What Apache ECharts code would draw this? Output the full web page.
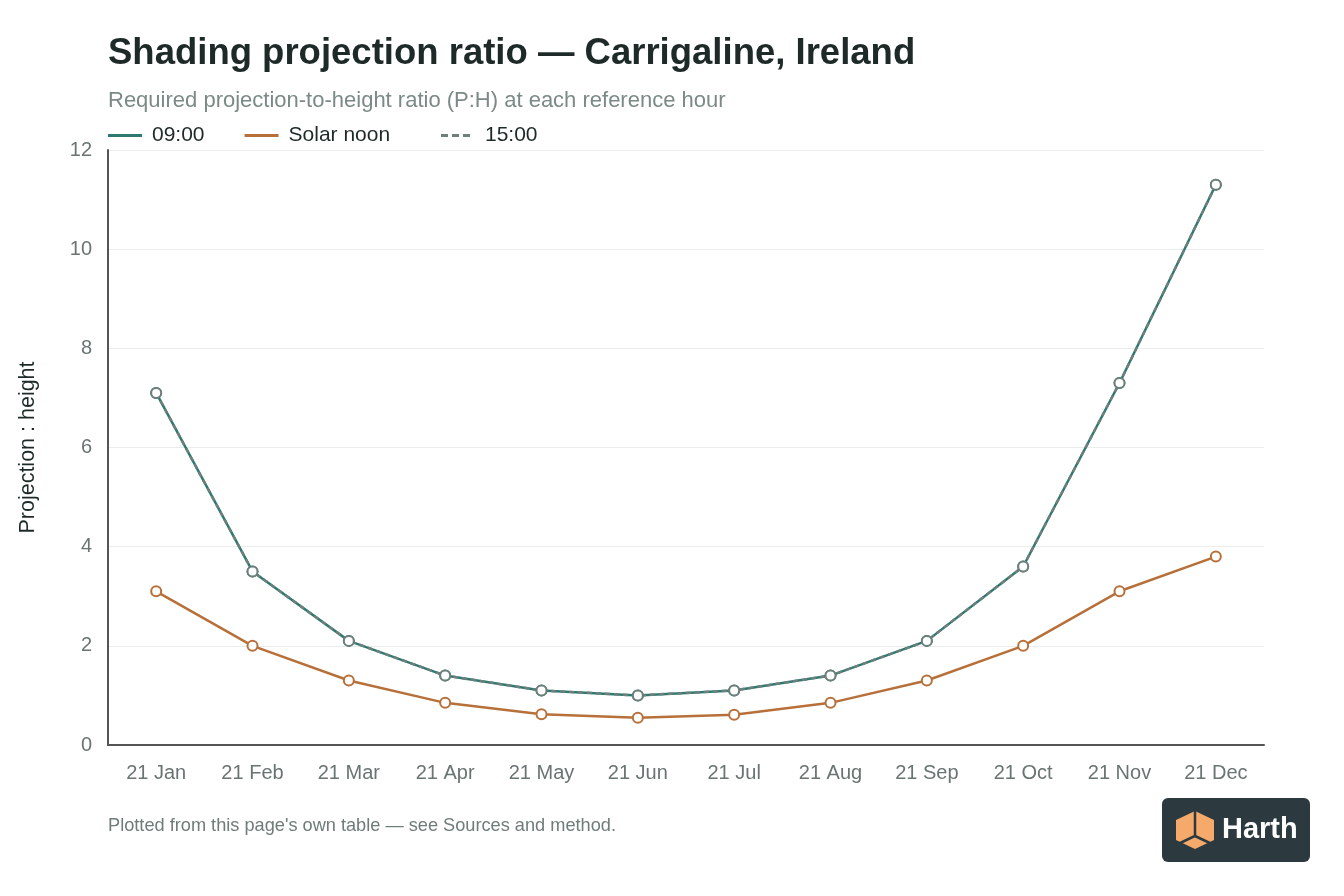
<!DOCTYPE html>
<html>
<head>
<meta charset="utf-8">
<title>Shading projection ratio</title>
<script src="https://cdn.jsdelivr.net/npm/echarts@6/dist/echarts.min.js"></script>
<style>
  html, body { margin: 0; padding: 0; background: #fff; }
  #chart { width: 1344px; height: 896px; }
</style>
</head>
<body>
<div id="chart"></div>
<script>
// dates of the reference days
var months = ['21 Jan', '21 Feb', '21 Mar', '21 Apr', '21 May', '21 Jun', '21 Jul', '21 Aug', '21 Sep', '21 Oct', '21 Nov', '21 Dec'];
// P:H ratio at each reference hour
var morning = [7.1, 3.5, 2.1, 1.4, 1.1, 1.0, 1.1, 1.4, 2.1, 3.6, 7.3, 11.3];
var noon = [3.1, 2.0, 1.3, 0.85, 0.62, 0.55, 0.61, 0.85, 1.3, 2.0, 3.1, 3.8];
var afternoon = [7.1, 3.5, 2.1, 1.4, 1.1, 1.0, 1.1, 1.4, 2.1, 3.6, 7.3, 11.3];
var yTicks = [0, 2, 4, 6, 8, 10, 12];

var font = '"Liberation Sans", Arial, sans-serif';
var myChart = echarts.init(document.getElementById('chart'));

function lineSeries(name, data, color, dashed) {
	return {
		name: name,
		type: 'line',
		data: data,
		symbol: 'circle',
		symbolSize: 10,
		showAllSymbol: true,
		lineStyle: { color: color, width: 2.5, type: dashed ? [5, 4] : 'solid' },
		itemStyle: { color: '#fff', borderColor: color, borderWidth: 2 },
		emphasis: { disabled: true }
	};
}

var legendText = { fontSize: 21, color: '#1d2a27', fontFamily: font, padding: [0, 0, 0, 5] };

var option = {
	animation: false,
	textStyle: { fontFamily: font },
	title: [{
		text: 'Shading projection ratio — Carrigaline, Ireland',
		left: 103, top: 30,
		textStyle: { fontSize: 36.5, fontWeight: 'bold', color: '#1d2a27', fontFamily: font }
	}, {
		text: 'Required projection-to-height ratio (P:H) at each reference hour',
		left: 103, top: 85,
		textStyle: { fontSize: 22, fontWeight: 'normal', color: '#7b8a86', fontFamily: font }
	}, {
		text: "Plotted from this page's own table — see Sources and method.",
		left: 103, top: 812,
		textStyle: { fontSize: 18.2, fontWeight: 'normal', color: '#6f7c79', fontFamily: font }
	}],
	legend: [{
		left: 103, top: 120,
		itemWidth: 34, itemHeight: 3, itemGap: 40,
		icon: 'rect',
		textStyle: legendText,
		data: [
			{ name: '09:00', itemStyle: { color: '#2e7a71', borderWidth: 0 } },
			{ name: 'Solar noon', itemStyle: { color: '#b8703a', borderWidth: 0 } }
		]
	}, {
		left: 436, top: 120,
		itemWidth: 34, itemHeight: 3,
		textStyle: legendText,
		data: [
			// three dashes, box padded to 34 wide by a zero-area stroke
			{ name: '15:00', icon: 'path://M0,0h7v3h-7z M11,0h7v3h-7z M22,0h7v3h-7z M34,0L34,3',
				itemStyle: { color: '#6f807c', borderWidth: 0 } }
		]
	}],
	grid: { left: 108, right: 80, top: 150, bottom: 151 },
	xAxis: {
		type: 'category',
		data: months,
		boundaryGap: true,
		axisLine: { lineStyle: { color: '#555', width: 2 } },
		axisTick: { show: false },
		axisLabel: { fontSize: 20, color: '#6a7472', margin: 18 },
		splitLine: { show: false }
	},
	yAxis: {
		type: 'value',
		min: yTicks[0], max: yTicks[yTicks.length - 1], interval: 2,
		name: 'Projection : height',
		nameLocation: 'middle',
		nameGap: 69,
		nameTextStyle: { fontSize: 21.5, color: '#1d2a27' },
		axisLine: { show: true, lineStyle: { color: '#555', width: 2 } },
		axisTick: { show: false },
		axisLabel: { fontSize: 20, color: '#6a7472', margin: 16 },
		splitLine: { lineStyle: { color: '#ebedec', width: 1 } }
	},
	series: [
		lineSeries('09:00', morning, '#2e7a71', false),
		lineSeries('Solar noon', noon, '#b8703a', false),
		lineSeries('15:00', afternoon, '#6f807c', true)
	],
	graphic: [{
		type: 'group',
		left: 1162, top: 798,
		children: [{
			type: 'rect',
			shape: { x: 0, y: 0, width: 148, height: 64, r: 6 },
			style: { fill: '#2c3a40' }
		}, {
			// cube icon
			type: 'polygon',
			shape: { points: [[33, 13], [52, 22], [52, 42], [33, 51], [14, 42], [14, 22]] },
			style: { fill: '#f5a96b' }
		}, {
			type: 'polyline',
			shape: { points: [[33, 13], [33, 38], [14, 47]] },
			style: { stroke: '#2c3a40', lineWidth: 2.5, fill: null }
		}, {
			type: 'polyline',
			shape: { points: [[33, 38], [52, 47]] },
			style: { stroke: '#2c3a40', lineWidth: 2.5, fill: null }
		}, {
			type: 'text',
			x: 60, y: 17,
			style: { text: 'Harth', fill: '#fff', fontSize: 29, fontWeight: 'bold', fontFamily: font }
		}]
	}]
};
myChart.setOption(option);
</script>
</body>
</html>
